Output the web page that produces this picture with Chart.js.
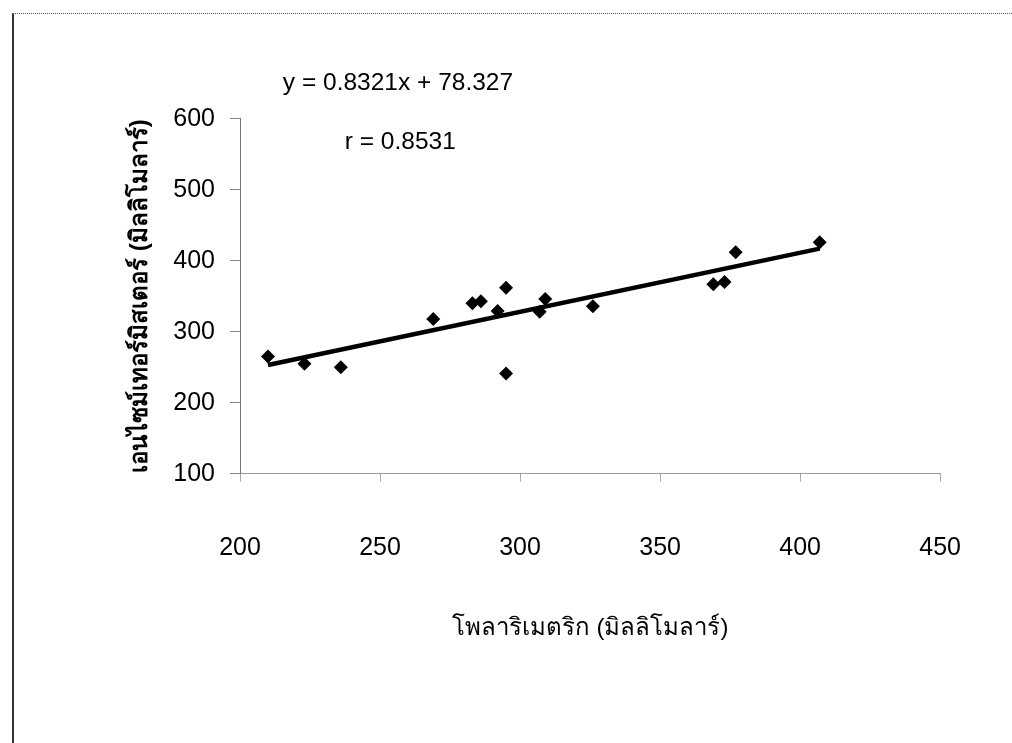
<!DOCTYPE html>
<html>
<head>
<meta charset="utf-8">
<script src="https://cdn.jsdelivr.net/npm/chart.js@4.4.1/dist/chart.umd.min.js"></script>
<style>
  body { margin: 0; background: #fff; }
  #wrap { position: relative; width: 1012px; height: 743px; }
  #frame { position: absolute; left: 12px; top: 13px; right: 0; bottom: 0;
           border-left: 2px solid #333; border-top: 1px dotted #555; pointer-events: none; }
</style>
</head>
<body>
<div id="wrap">
  <canvas id="myChart" width="1012" height="743"></canvas>
  <div id="frame"></div>
</div>
<script>
// จุดข้อมูล (อ่านจากภาพ)
var polarX = [210, 223, 236, 269, 283, 286, 292, 295, 295, 307, 309, 326, 369, 373, 377, 407]
var enzymeY = [265, 255, 250, 318, 340, 343, 329, 362, 241, 328, 346, 336, 367, 370, 412, 426]

// เส้นแนวโน้ม (ปลายเส้นอ่านจากภาพ)
var trendX = [210, 407]
var trendY = [253, 417]

var xTicks = [200, 250, 300, 350, 400, 450]
var yTicks = [100, 200, 300, 400, 500, 600]

var eqText = 'y = 0.8321x + 78.327'
var rText = 'r = 0.8531'

var font = 'Liberation Sans, Arial, sans-serif'

// วาดข้อความสมการบนกราฟ
var textPlugin = {
    id: 'eqText',
    afterDraw: function (chart) {
        var ctx = chart.ctx
        var xs = chart.scales.x
        var ys = chart.scales.y
        ctx.save()
        ctx.fillStyle = '#000'
        ctx.font = '24.5px ' + font
        ctx.textBaseline = 'middle'
        ctx.fillText(eqText, xs.getPixelForValue(215.3), ys.getPixelForValue(650))
        ctx.fillText(rText, xs.getPixelForValue(237.4), ys.getPixelForValue(567))
        ctx.restore()
    }
}

var ctx = document.getElementById('myChart').getContext('2d')
var chart = new Chart(ctx, {
    type: 'scatter',
    data: {
        datasets: [{
            label: 'data',
            data: polarX.map((v, i) => ({x: v, y: enzymeY[i]})),
            pointStyle: 'rectRot',
            pointRadius: 7,
            backgroundColor: '#000',
            borderColor: '#000',
            borderWidth: 0
        }, {
            label: 'trend',
            type: 'line',
            data: trendX.map((v, i) => ({x: v, y: trendY[i]})),
            borderColor: '#000',
            borderWidth: 4.5,
            pointRadius: 0,
            fill: false
        }]
    },
    options: {
        responsive: false,
        animation: false,
        layout: { padding: { left: 0, top: 118.7, right: 70, bottom: 0 } },
        plugins: { legend: { display: false }, tooltip: { enabled: false } },
        scales: {
            x: {
                type: 'linear',
                min: 200, max: 450,
                afterBuildTicks: function (s) { s.ticks = xTicks.map(v => ({value: v})) },
                afterFit: function (s) { s.height = 743 - 473.7 },
                grid: { drawOnChartArea: false, tickLength: 8, color: '#aaa' },
                border: { color: '#999', dash: [3, 4], width: 1 },
                ticks: { color: '#000', font: { family: font, size: 25 }, padding: 51 },
                title: {
                    display: true,
                    text: 'โพลาริเมตริก (มิลลิโมลาร์)',
                    color: '#000',
                    font: { family: font, size: 24 },
                    padding: { top: 0, bottom: 100.6 }
                }
            },
            y: {
                min: 100, max: 600,
                afterBuildTicks: function (s) { s.ticks = yTicks.map(v => ({value: v})) },
                afterFit: function (s) { s.width = 240 },
                grid: { drawOnChartArea: false, tickLength: 10, color: '#888' },
                border: { color: '#777', width: 1 },
                ticks: { color: '#000', font: { family: font, size: 25 }, padding: 15 },
                title: {
                    display: true,
                    text: 'เอนไซม์เทอร์มิสเตอร์ (มิลลิโมลาร์)',
                    color: '#000',
                    font: { family: font, size: 24, weight: 'bold' },
                    padding: { top: 125.6, bottom: 0 }
                }
            }
        }
    },
    plugins: [textPlugin]
})
</script>
</body>
</html>
